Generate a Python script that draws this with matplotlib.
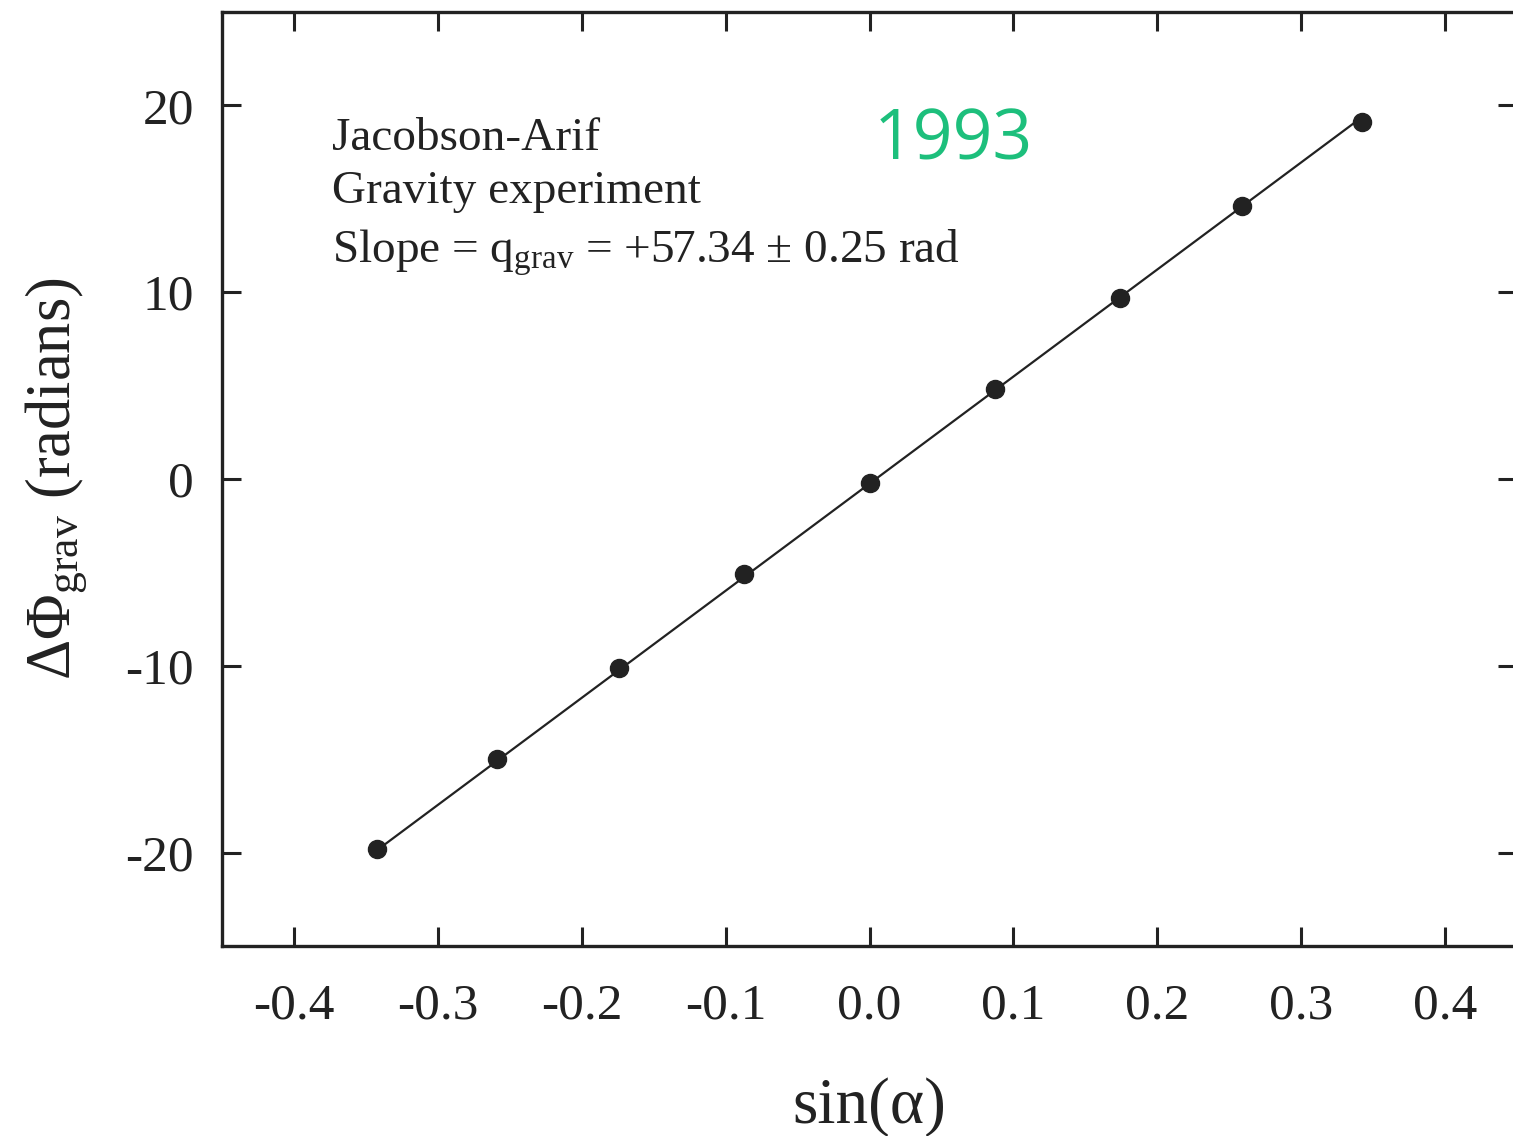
import matplotlib
matplotlib.use("Agg")
import matplotlib.pyplot as plt
import numpy as np

# datos del experimento de gravedad (Jacobson-Arif)
sin_alfa = [-0.342, -0.259, -0.174, -0.087, 0.0, 0.087, 0.174, 0.259, 0.342]
delta_phi = [-19.8, -15.0, -10.1, -5.1, -0.2, 4.8, 9.7, 14.6, 19.1]
pendiente = 57.34
ordenada = -0.25

xticks = [-0.4, -0.3, -0.2, -0.1, 0.0, 0.1, 0.2, 0.3, 0.4]
yticks = [-20, -10, 0, 10, 20]

plt.rcParams['font.family'] = ['Liberation Serif', 'DejaVu Serif']
plt.rcParams['mathtext.fontset'] = 'custom'
plt.rcParams['mathtext.rm'] = 'Liberation Serif'
plt.rcParams['mathtext.it'] = 'Liberation Serif:italic'

fig = plt.figure()
fig.set_size_inches(15.13, 11.36)
ax = fig.add_axes([0.1467, 0.1673, 0.856, 0.8221])

# recta de ajuste
xr = np.array([sin_alfa[0], sin_alfa[-1]])
ax.plot(xr, pendiente * xr + ordenada, "-", color="#222222", lw=1.6)
ax.plot(sin_alfa, delta_phi, "o", color="#222222", ms=13)

ax.set_xlim(-0.45, 0.45)
ax.set_ylim(-25, 25)
ax.set_xticks(xticks)
ax.set_xticklabels(["%.1f" % v for v in xticks])
ax.set_yticks(yticks)
ax.set_yticklabels([str(v) for v in yticks])
ax.tick_params(direction="in", length=14, width=2.2, top=True, right=True,
               labelsize=37, color="#222222", labelcolor="#222222")
ax.tick_params(axis="x", pad=27)
ax.tick_params(axis="y", pad=20)
for s in ax.spines.values():
    s.set_linewidth(2.4)
    s.set_color("#222222")

ax.set_xlabel("sin(α)", fontsize=47, color="#222222", labelpad=34)
ax.set_ylabel("ΔΦ$_{\\mathrm{grav}}$ (radians)", fontsize=45, color="#222222", labelpad=26)

# leyenda de texto, una linea por texto
lineas = ["Jacobson-Arif", "Gravity experiment",
          "Slope = q$_{\\mathrm{grav}}$ = +57.34 ± 0.25 rad"]
for yy, t in zip([0.852, 0.795, 0.732], lineas):
    ax.text(0.085, yy, t, transform=ax.transAxes, fontsize=34,
            va="baseline", color="#222222")
ax.text(0.503, 0.8425, "1993", transform=ax.transAxes, fontsize=50,
        va="baseline", color="#1dbf7c", family="Open Sans")

fig.savefig("out.png", dpi=100)
